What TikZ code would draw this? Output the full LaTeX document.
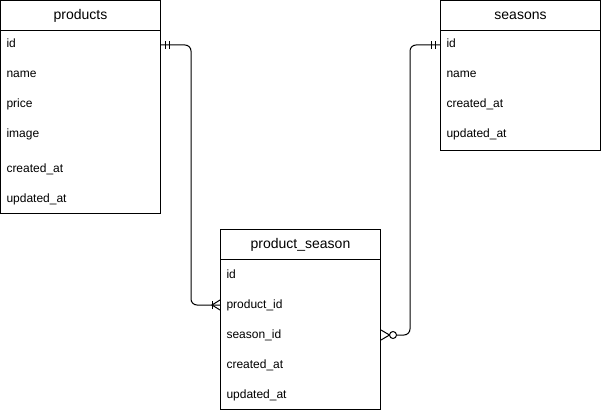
\documentclass[tikz,border=0pt]{standalone}
\usepackage{fontspec}
\setmainfont{Liberation Sans}
\begin{document}
\begin{tikzpicture}[x=1pt,y=-1pt,line width=1pt,
  tbl/.style={draw=black,fill=white},
  title/.style={font=\fontsize{14}{16}\selectfont,text height=10pt,text depth=3pt,inner sep=0pt},
  row/.style={text width=148pt,inner xsep=6pt,inner ysep=0pt,align=left,
    font=\fontsize{12}{14}\selectfont,text height=9pt,text depth=3pt},
  conn/.style={draw=black,line width=1pt,rounded corners=6pt},
  ermark/.style={draw=black,line width=1pt}]
\useasboundingbox (0,0) rectangle (601,414);
\fill[white] (0,0) rectangle (601,414);

% products
\draw[tbl] (0.5,0.5) rectangle (160.5,213.5);
\draw (0.5,30.5) -- (160.5,30.5);
\node[title] (pt) at (80.5,16) {products};
\node[row] (p-id) at (80.5,45) {id};
\node[row] (p-name) at (80.5,75) {name};
\node[row] (p-price) at (80.5,105) {price};
\node[row] (p-image) at (80.5,135) {image};
\node[row] (p-cr) at (80.5,169) {created\_at};
\node[row] (p-up) at (80.5,199) {updated\_at};

% seasons
\draw[tbl] (440.5,0.5) rectangle (600.5,150.5);
\draw (440.5,30.5) -- (600.5,30.5);
\node[title] (st) at (520.5,16) {seasons};
\node[row] (s-id) at (520.5,45) {id};
\node[row] (s-name) at (520.5,75) {name};
\node[row] (s-cr) at (520.5,105) {created\_at};
\node[row] (s-up) at (520.5,135) {updated\_at};

% product_season
\draw[tbl] (220.5,229.5) rectangle (380.5,409.5);
\draw (220.5,259.5) -- (380.5,259.5);
\node[title] (pst) at (300.5,245) {product\_season};
\node[row] (ps-id) at (300.5,275) {id};
\node[row] (ps-pid) at (300.5,305) {product\_id};
\node[row] (ps-sid) at (300.5,335) {season\_id};
\node[row] (ps-cr) at (300.5,365) {created\_at};
\node[row] (ps-up) at (300.5,395) {updated\_at};

% connector products.id -> product_season.product_id
\draw[conn] (p-id.east) -- ++(30,0) |- (ps-pid.west);
\draw[ermark] ([xshift=4.5pt,yshift=-4pt]p-id.east) -- ++(0,-8);
\draw[ermark] ([xshift=8.5pt,yshift=-4pt]p-id.east) -- ++(0,-8);
\draw[ermark] ([xshift=-8pt,yshift=-4pt]ps-pid.west) -- ++(0,-8);
\draw[ermark] ([yshift=5pt]ps-pid.west) -- ([xshift=-8pt]ps-pid.west) -- ([yshift=-5pt]ps-pid.west);

% connector seasons.id -> product_season.season_id
\coordinate (circ) at ([xshift=12pt]ps-sid.east);
\draw[conn] (s-id.west) -- ++(-30,0) |- ([xshift=3.5pt]circ);
\draw[ermark] ([xshift=-9pt,yshift=-4pt]s-id.west) -- ++(0,-8);
\draw[ermark] ([xshift=-5pt,yshift=-4pt]s-id.west) -- ++(0,-8);
\draw[ermark] ([yshift=5pt]ps-sid.east) -- ([xshift=8.5pt]ps-sid.east) -- ([yshift=-5pt]ps-sid.east);
\draw[ermark,fill=white] (circ) circle (3.5pt);
\end{tikzpicture}
\end{document}
